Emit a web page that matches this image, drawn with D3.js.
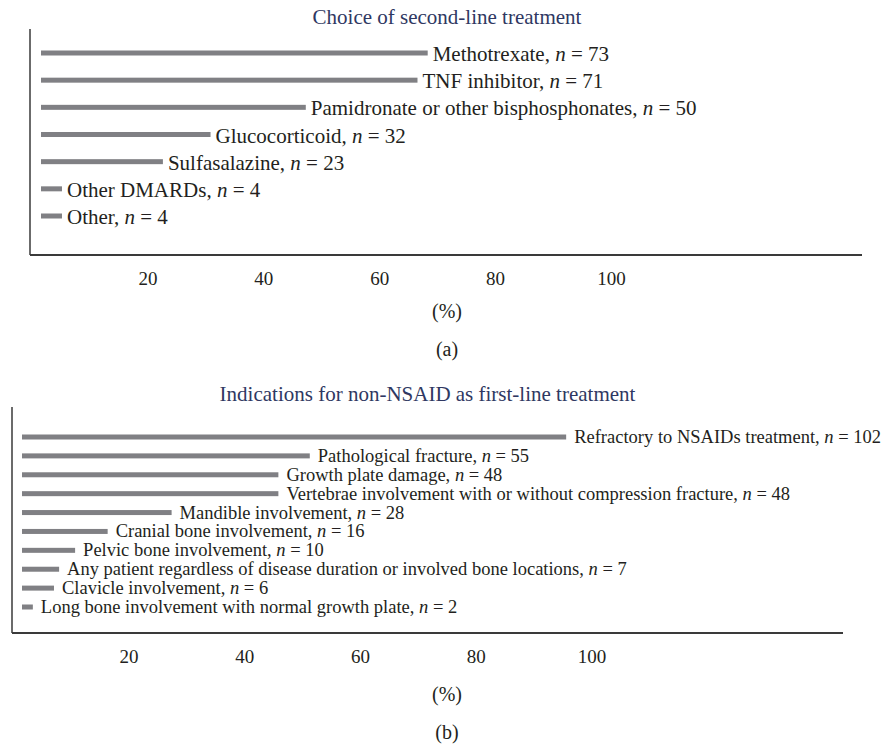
<!DOCTYPE html>
<html>
<head>
<meta charset="utf-8">
<script src="https://cdn.jsdelivr.net/npm/d3@7"></script>
<style>
  html, body { margin: 0; padding: 0; background: #fff; }
  svg { display: block; }
  svg text { font-family: "Liberation Serif", serif; }
</style>
</head>
<body>
<svg id="chart" width="884" height="746"></svg>
<script>
// ---- Data (a) ----
const titleA = "Choice of second-line treatment";
const categoriesA = ["Methotrexate", "TNF inhibitor", "Pamidronate or other bisphosphonates",
  "Glucocorticoid", "Sulfasalazine", "Other DMARDs", "Other"];
const countsA = [73, 71, 50, 32, 23, 4, 4];
const percentA = [68.2, 66.4, 46.7, 29.9, 21.5, 3.7, 3.7];

// ---- Data (b) ----
const titleB = "Indications for non-NSAID as first-line treatment";
const categoriesB = ["Refractory to NSAIDs treatment", "Pathological fracture", "Growth plate damage",
  "Vertebrae involvement with or without compression fracture", "Mandible involvement",
  "Cranial bone involvement", "Pelvic bone involvement",
  "Any patient regardless of disease duration or involved bone locations",
  "Clavicle involvement", "Long bone involvement with normal growth plate"];
const countsB = [102, 55, 48, 48, 28, 16, 10, 7, 6, 2];
const percentB = [95.3, 50.4, 44.9, 44.9, 26.2, 15.0, 9.3, 6.5, 5.6, 1.9];

// ---- Axis text ----
const tickValues = [20, 40, 60, 80, 100];
const axisTitle = "(%)";
const panelLabels = ["(a)", "(b)"];

const FONT = "Liberation Serif";
const svg = d3.select("#chart");
const barColor = "#808084";
const titleColor = "#2f3862";
const textColor = "#231f20";

function drawPanel(cfg) {
  const g = svg.append("g").attr("font-family", FONT);
  const data = cfg.cats.map((c, i) => ({ name: c, n: cfg.counts[i], v: cfg.pct[i] }));

  const x = d3.scaleLinear().domain([0, 100]).range(cfg.barRange);
  const xTick = d3.scaleLinear().domain([0, 100]).range(cfg.tickRange);
  const y = d3.scalePoint().domain(cfg.cats).range(cfg.yRange);

  // title
  g.append("text")
    .attr("x", cfg.titleX).attr("y", cfg.titleY)
    .attr("text-anchor", "middle")
    .attr("font-family", FONT)
    .attr("font-size", 21).attr("fill", titleColor)
    .text(cfg.title);

  // axis frame lines
  g.append("line")
    .attr("x1", cfg.left).attr("x2", cfg.left)
    .attr("y1", cfg.top).attr("y2", cfg.bottom)
    .attr("stroke", "#3a3a3a").attr("stroke-width", 1.5);
  g.append("line")
    .attr("x1", cfg.left).attr("x2", cfg.right)
    .attr("y1", cfg.bottom).attr("y2", cfg.bottom)
    .attr("stroke", "#3a3a3a").attr("stroke-width", 1.8);

  // bars
  g.selectAll("rect.bar").data(data).join("rect")
    .attr("class", "bar")
    .attr("x", x(0))
    .attr("y", d => y(d.name) - 2.5)
    .attr("width", d => x(d.v) - x(0))
    .attr("height", 5)
    .attr("fill", barColor);

  // labels
  const lab = g.selectAll("text.lab").data(data).join("text")
    .attr("class", "lab")
    .attr("x", d => x(d.v) + cfg.gap)
    .attr("y", d => y(d.name) + cfg.dy)
    .attr("font-family", FONT)
    .attr("font-size", cfg.fontSize)
    .attr("fill", textColor);
  lab.append("tspan").text(d => d.name + ", ");
  lab.append("tspan").attr("font-style", "italic").text("n");
  lab.append("tspan").text(d => " = " + d.n);

  // tick labels via axis
  const axis = d3.axisBottom(xTick).tickValues(tickValues).tickSize(0).tickPadding(0).tickFormat(d3.format("d"));
  const ag = g.append("g").attr("transform", `translate(0,${cfg.tickY})`).call(axis);
  ag.attr("font-family", FONT);
  ag.select(".domain").remove();
  ag.selectAll("text")
    .attr("dy", 0).attr("y", 0)
    .attr("font-family", FONT)
    .attr("font-size", 19).attr("fill", textColor);

  g.append("text")
    .attr("x", cfg.midX).attr("y", cfg.pctY)
    .attr("text-anchor", "middle").attr("font-family", FONT).attr("font-size", 20).attr("fill", textColor)
    .text(axisTitle);
  g.append("text")
    .attr("x", cfg.midX).attr("y", cfg.panelY)
    .attr("text-anchor", "middle").attr("font-family", FONT).attr("font-size", 20).attr("fill", textColor)
    .text(cfg.panel);
}

drawPanel({
  title: titleA, cats: categoriesA, counts: countsA, pct: percentA, panel: panelLabels[0],
  left: 30, top: 29, bottom: 255, right: 862,
  barRange: [41, 608], tickRange: [31.6, 611], yRange: [53, 216],
  fontSize: 21, gap: 5, dy: 8,
  titleX: 447, titleY: 24, tickY: 285, pctY: 318, panelY: 356, midX: 447
});

drawPanel({
  title: titleB, cats: categoriesB, counts: countsB, pct: percentB, panel: panelLabels[1],
  left: 12, top: 407, bottom: 633, right: 843,
  barRange: [22, 593], tickRange: [12.75, 591.5], yRange: [437, 607],
  fontSize: 18.5, gap: 8, dy: 6,
  titleX: 427.5, titleY: 401, tickY: 663, pctY: 701, panelY: 739, midX: 447
});
</script>
</body>
</html>
